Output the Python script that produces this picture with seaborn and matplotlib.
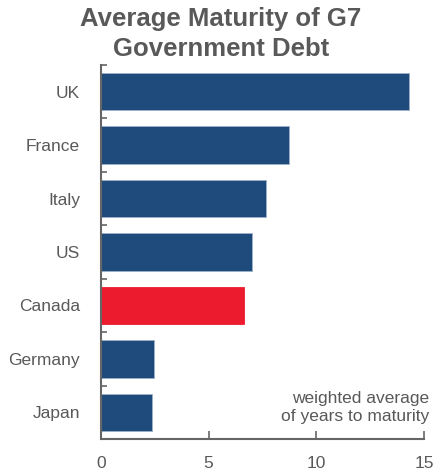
import matplotlib
matplotlib.use("Agg")
import matplotlib.pyplot as plt
import matplotlib.colors as mcolors
import seaborn as sns
import pandas as pd
import numpy as np

countries = ["UK", "France", "Italy", "US", "Canada", "Germany", "Japan"]
maturity = [14.3, 8.75, 7.65, 7.0, 6.65, 2.47, 2.37]
highlight = ["other", "other", "other", "other", "Canada", "other", "other"]
x_ticks = [0, 5, 10, 15]

BLUE = "#1F4B7C"
RED = "#ED1B2E"

sns.set_theme(style="white")
plt.rcParams["font.family"] = ["Liberation Sans", "DejaVu Sans"]

df = pd.DataFrame({"country": countries, "maturity": maturity, "group": highlight})

fig = plt.figure(figsize=(4.48, 4.74), dpi=100)
ax = fig.add_axes([101 / 448, 1 - 439 / 474, (424 - 101) / 448, (439 - 65) / 474])

sns.barplot(data=df, x="maturity", y="country", hue="group", orient="h",
            palette={"other": BLUE, "Canada": RED},
            width=0.7, dodge=False, legend=False, ax=ax,
            edgecolor="#9DB0C8", linewidth=0.6, saturation=1)
for p in ax.patches:
    fc = mcolors.to_hex(p.get_facecolor())
    if fc.lower() == RED.lower():
        p.set_edgecolor(RED)
    else:
        p.set_edgecolor("#9DB0C8")

ax.set_xlim(0, 15)
ax.set_ylim(6.5, -0.5)
ax.set_xticks(x_ticks)
ax.set_xticklabels([str(t) for t in x_ticks], fontsize=12.5, color="#595959")
ax.set_yticks(range(len(countries)))
ax.set_yticklabels(countries, fontsize=12.5, color="#595959")
ax.set_yticks(np.arange(-0.5, 6.6, 1.0), minor=True)
ax.tick_params(axis="y", which="major", length=0, pad=15)
ax.tick_params(axis="y", which="minor", direction="in", length=4, width=1.2, color="#666666", left=True)
ax.tick_params(axis="x", which="major", direction="in", length=6, width=1.2, color="#666666", pad=12, bottom=True)
ax.set_xlabel("")
ax.set_ylabel("")

for s in ["top", "right"]:
    ax.spines[s].set_visible(False)
for s in ["left", "bottom"]:
    ax.spines[s].set_color("#666666")
    ax.spines[s].set_linewidth(1.5)

fig.text(0.493, 0.985, "Average Maturity of G7\nGovernment Debt", ha="center", va="top",
         fontsize=18.5, fontweight="bold", color="#595959", linespacing=1.3)

ax.text(1.015, 0.04, "weighted average\nof years to maturity", transform=ax.transAxes,
        ha="right", va="bottom", fontsize=12.5, color="#595959", linespacing=1.25)

fig.savefig("out.png", dpi=100)
